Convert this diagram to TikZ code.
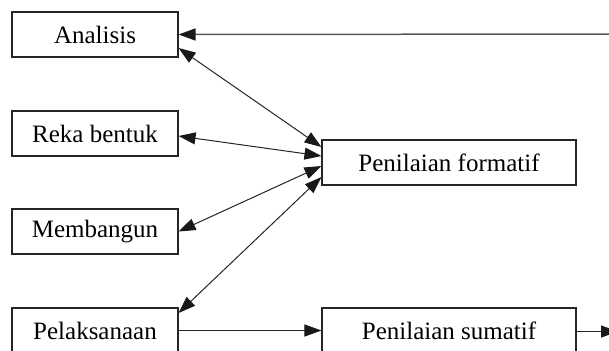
\documentclass[tikz,border=0pt]{standalone}
\usepackage{fontspec}
\setmainfont{Liberation Serif}
\usetikzlibrary{arrows.meta,calc}
\begin{document}
\begin{tikzpicture}[x=0.5pt,y=-0.5pt,
  box/.style={draw=black!85,line width=0.55pt,minimum width=83pt,minimum height=22.5pt,inner sep=0pt,font=\fontsize{12.5}{14}\selectfont},
  wbox/.style={box,minimum width=127pt},
  conn/.style={line width=0.5pt,draw=black!85,-{Triangle[length=8.5pt,width=6pt,color=black!90]}},
  dconn/.style={conn,{Triangle[length=8.5pt,width=6pt,color=black!90]}-{Triangle[length=8.5pt,width=6pt,color=black!90]}}]
\useasboundingbox (0,0) rectangle (609,350);
\clip (0,0) rectangle (609,350);
\node[box] (A) at (95,34.5) {Analisis};
\node[box] (R) at (95,133.5) {Reka bentuk};
\node[box] (M) at (95,231.5) {Membangun};
\node[box] (P) at (95,330.5) {Pelaksanaan};
\node[wbox] (F) at (449,162.5) {Penilaian formatif};
\node[wbox] (S) at (449,330.5) {Penilaian sumatif};
\coordinate (top) at (609,34);
\coordinate (out) at (618,331.5);
\draw[conn,draw=black!65,line width=0.75pt] (top) -- (A.east);
\draw[dconn] ($(A.east)+(0,13.5)$) -- ($(F.west)+(0,-15.5)$);
\draw[dconn] ($(R.east)+(0,2.5)$) -- ($(F.west)+(0,-6.5)$);
\draw[dconn] (M.east) -- ($(F.west)+(0,3.5)$);
\draw[dconn] ($(P.east)+(0,-17.5)$) -- ($(F.west)+(0,14.5)$);
\draw[conn] (P.east) -- (S.west);
\draw[conn] ($(S.east)+(0,1)$) -- (out);
\end{tikzpicture}
\end{document}
